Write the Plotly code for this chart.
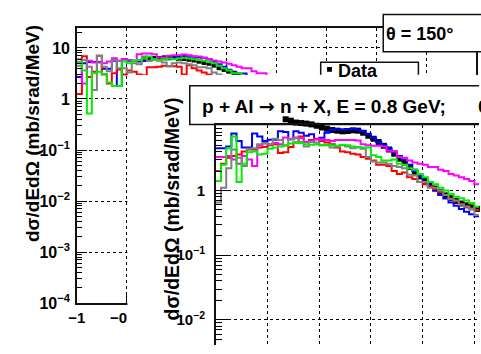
import plotly.graph_objects as go

W, H = 481, 354
FONT = "Liberation Sans, Arial, sans-serif"

# ---------------- data ----------------
BIN_W = 0.1
HIST_X0 = -1.0          # first bin edge (both panels)
DATA_X0 = 0.35          # first data point (bin centre)

# front panel (p + Al -> n + X) histograms, 0.1-wide bins from -1.0
front_blue = [4.5, 4.5, 4.8, 7.6, 5.8, 4.6, 4.6, 7.6, 6.8, 5.8,
              6.1, 6.1, 8.2, 8.0, 6.2, 8.2, 7.8, 7.0, 7.4, 6.2,
              6.5, 7.8, 8.6, 8.8, 8.6, 8.8, 8.9, 8.7, 8.3, 7.4,
              6.6, 5.6, 5.0, 4.5, 4.0, 3.4, 3.0, 2.5, 2.0, 1.7,
              1.4, 1.2, 1.0, 0.85, 0.75, 0.65, 0.58, 0.52, 0.47, 0.43, 0.40]
front_red = [2.0, 2.6, 3.2, 3.4, 3.6, 4.0, 4.3, 4.3, 4.6, 4.7,
             5.0, 5.2, 3.8, 3.9, 4.7, 5.5, 6.8, 5.6, 6.0, 6.3,
             5.8, 5.5, 5.2, 4.6, 4.0, 3.9, 3.7, 3.6, 3.3, 3.1,
             2.9, 2.5, 2.5, 2.4, 2.0, 1.8, 1.9, 1.6, 1.5, 1.35,
             1.25, 1.15, 1.05, 0.95, 0.85, 0.75, 0.68, 0.62, 0.57, 0.53, 0.50]
front_magenta = [3.3, 3.3, 3.4, 3.0, 2.6, 3.4, 3.0, 2.4, 5.0, 5.3,
                 5.2, 5.4, 5.2, 6.6, 6.3, 6.6, 6.4, 5.6, 5.8, 6.2,
                 6.1, 6.0, 5.8, 6.0, 6.0, 6.0, 6.0, 5.9, 5.2, 5.0,
                 4.9, 4.9, 4.8, 4.1, 4.0, 3.3, 3.2, 2.9, 2.7, 2.6,
                 2.5, 2.3, 2.3, 2.1, 2.0, 1.8, 1.7, 1.6, 1.5, 1.4, 1.25]
front_gray = [0.65, 1.1, 2.2, 4.3, 3.2, 2.4, 4.4, 4.5, 5.2, 5.4,
              5.2, 6.3, 6.0, 5.0, 6.2, 6.4, 5.6, 4.8, 5.6, 5.5,
              5.0, 5.0, 4.6, 4.8, 5.0, 4.8, 4.5, 4.6, 4.4, 3.3,
              2.8, 2.7, 2.7, 2.6, 2.4, 2.3, 2.2, 1.75, 1.7, 1.35,
              1.35, 1.1, 1.1, 1.0, 0.85, 0.73, 0.7, 0.6, 0.56, 0.52, 0.42]
front_green = [1.4, 2.5, 4.5, 6.8, 1.35, 2.6, 3.9, 4.0, 3.6, 3.7,
               4.4, 4.6, 4.8, 4.9, 5.3, 5.5, 5.4, 5.2, 5.1, 5.2,
               5.0, 5.1, 5.0, 4.9, 5.1, 5.0, 4.8, 4.7, 4.6, 4.6,
               3.5, 3.3, 2.9, 2.9, 3.0, 2.6, 2.5, 2.2, 2.1, 1.8,
               1.6, 1.35, 1.25, 1.1, 1.0, 0.88, 0.8, 0.76, 0.7, 0.64, 0.56]
front_data = [12.6, 12.0, 11.2, 11.0, 10.8, 10.5, 10.0, 9.4, 9.0, 8.6,
              8.4, 8.2, 8.3, 8.5, 8.4, 7.8, 7.0, 6.3, 5.6, 4.9,
              4.3, 3.7, 3.1, 2.7, 2.3, 1.95, 1.65, 1.42, 1.22, 1.07,
              0.94, 0.84, 0.76, 0.69, 0.63, 0.59, 0.55, 0.52]

# back panel (theta = 150 deg) histograms
back_blue = [2.7, 5.0, 5.3, 5.3, 5.3, 3.9, 3.9, 5.6, 1.8, 6.0,
             5.6, 5.6, 5.4, 5.6, 5.8, 6.0, 5.9, 6.2, 6.0, 6.4,
             6.6, 7.2, 6.6, 6.8, 6.6, 6.4, 6.0, 5.4, 4.8, 4.3,
             3.7, 3.3, 3.15, 3.15, 2.6, 2.3, 2.0, 1.8, 1.6, 1.4,
             1.25, 1.1, 0.95, 0.85, 0.75, 0.65, 0.58, 0.52, 0.46, 0.42]
back_red = [1.25, 6.9, 2.7, 3.4, 7.0, 3.0, 2.0, 3.2, 3.8, 3.0,
            3.6, 3.4, 3.0, 2.9, 4.2, 4.2, 4.3, 4.5, 4.4, 4.4,
            4.3, 3.0, 4.6, 4.0, 3.6, 3.3, 3.0, 2.6, 2.3, 2.0,
            1.8, 1.6, 1.45, 1.3, 1.15, 1.05, 0.95, 0.85, 0.78, 0.7,
            0.63, 0.57, 0.52, 0.47, 0.43, 0.39, 0.36, 0.33, 0.3, 0.28]
back_magenta = [6.0, 2.0, 5.6, 5.2, 5.2, 5.0, 5.4, 6.3, 5.6, 6.0,
                5.8, 5.6, 7.5, 7.8, 7.8, 7.5, 6.5, 6.5, 7.0, 7.2,
                7.2, 7.4, 7.2, 6.8, 6.8, 6.4, 6.0, 5.7, 5.4, 5.2,
                4.9, 4.6, 4.3, 4.0, 4.0, 3.5, 3.2, 3.2, 2.6, 2.4,
                2.2, 2.0, 1.85, 1.7, 1.55, 1.4, 1.3, 1.2, 1.1, 1.0]
back_gray = [4.5, 5.8, 4.3, 1.5, 7.0, 4.3, 3.5, 5.8, 4.0, 4.0,
             3.3, 5.0, 4.8, 6.8, 5.6, 5.8, 5.6, 5.2, 4.4, 5.0,
             5.2, 5.0, 4.8, 4.6, 4.2, 4.2, 4.0, 3.3, 3.0, 2.7,
             2.4, 2.15, 1.9, 1.7, 1.5, 1.35, 1.2, 1.08, 0.96, 0.86,
             0.77, 0.69, 0.62, 0.56, 0.5, 0.45, 0.41, 0.37, 0.33, 0.3]
back_green = [5.3, 3.6, 0.52, 3.2, 3.4, 3.1, 2.1, 1.8, 1.8, 5.4,
              5.0, 5.6, 5.8, 6.2, 6.8, 6.0, 5.8, 6.0, 6.2, 6.0,
              6.2, 6.4, 6.2, 6.0, 5.8, 5.6, 5.3, 5.0, 4.5, 4.0,
              3.6, 3.2, 3.2, 2.7, 2.4, 2.1, 1.85, 1.65, 1.45, 1.3,
              1.15, 1.02, 0.92, 0.82, 0.74, 0.66, 0.6, 0.54, 0.49, 0.45]
back_data = [6.0, 6.1, 6.2, 6.2, 6.4, 6.5, 6.5, 6.3, 6.2, 6.0,
             5.8, 5.5, 5.2, 5.0, 4.6, 4.1, 3.8, 3.5, 3.2, 2.9,
             2.6, 2.3, 2.0, 1.75, 1.55, 1.38, 1.22, 1.08, 0.96, 0.86,
             0.77, 0.69, 0.62, 0.56, 0.5, 0.45, 0.41, 0.37]

SERIES_COLORS = {"blue": "#0000ff", "red": "#ff0000", "magenta": "#ff00ff",
                 "gray": "#808080", "green": "#00ee00"}

back_yticks = [1e-4, 1e-3, 1e-2, 1e-1, 1, 10]
back_yticktext = ["10<sup>−4</sup>", "10<sup>−3</sup>", "10<sup>−2</sup>", "10<sup>−1</sup>", "1", "10"]
back_xticks = [-1, 0, 1, 2, 3, 4, 5, 6, 7]
back_xticktext = ["−1", "−0<span style='color:white'>00</span>", " ", " ", " ", " ", " ", " ", " "]
front_yticks = [1e-2, 1e-1, 1, 10]
front_yticktext = ["10<sup>−2</sup>", "10<sup>−1</sup>", "1", " "]
front_xticks = [0, 1, 2, 3, 4]

title_text = "p + Al <span style='font-family:DejaVu Sans'>→</span> n + X, E = 0.8 GeV;"
angle_text = "θ = 150°"
ytitle = "dσ/dEdΩ (mb/srad/MeV)"

# ---------------- geometry (pixels) ----------------
PAD2 = (121, 70)          # left/top corner of the front canvas
FRONT_X = (211.7, W)      # front frame, horizontal extent
FRONT_TOP = 122.7         # front frame top
FRONT_Y1 = 191.7          # pixel row of y = 1 on the front frame
FRONT_DEC = 68.0          # pixels per decade on the front frame
STRIP_TOP = 104.0         # extra room above the front frame for data points


def px_x(p):
    return p / W


def px_y(p):
    return 1 - p / H


def pad_x(p):            # pixel -> x2 units (x2 spans the front canvas)
    return (p - PAD2[0]) / (W - PAD2[0])


def pad_y(p):
    return (H - p) / (H - PAD2[1])


def front_log(p):        # pixel row -> log10 value on the front frame
    return (FRONT_Y1 - p) / FRONT_DEC


def minor_vals(lo, hi):
    return [m * 10.0 ** k for k in range(lo, hi) for m in range(2, 10)]


def step_trace(vals, color, xa, ya):
    edges = [round(HIST_X0 + BIN_W * i, 4) for i in range(len(vals) + 1)]
    ys = list(vals) + [vals[-1]]
    return go.Scatter(x=edges, y=ys, mode="lines",
                      line=dict(color=color, width=2, shape="hv"),
                      xaxis=xa, yaxis=ya, showlegend=False, hoverinfo="skip")


def data_trace(vals, size, xa, ya):
    xs = [round(DATA_X0 + BIN_W * i, 4) for i in range(len(vals))]
    return go.Scatter(x=xs, y=vals, mode="markers",
                      marker=dict(symbol="square", size=size, color="black",
                                  line=dict(width=0)),
                      cliponaxis=False, xaxis=xa, yaxis=ya,
                      showlegend=False, hoverinfo="skip")


fig = go.Figure()

# 1) back canvas
fig.add_trace(data_trace(back_data, 5, "x", "y"))
for vals, c in [(back_blue, "blue"), (back_red, "red"), (back_magenta, "magenta"),
                (back_gray, "gray"), (back_green, "green")]:
    fig.add_trace(step_trace(vals, SERIES_COLORS[c], "x", "y"))

# 2) front canvas background + title box
fig.add_trace(go.Scatter(x=[], y=[], xaxis="x2", yaxis="y2", showlegend=False))

# 3) front data points (same scale as the front frame, but allowed above it)
fig.add_trace(data_trace(front_data, 6, "x3", "y3"))

# 4) front frame with the model histograms
for vals, c in [(front_blue, "blue"), (front_red, "red"), (front_magenta, "magenta"),
                (front_gray, "gray"), (front_green, "green")]:
    fig.add_trace(step_trace(vals, SERIES_COLORS[c], "x4", "y4"))

tickfont_b = dict(family=FONT, size=16, color="black", weight="bold")
tickfont_f = dict(family=FONT, size=15, color="black", weight="bold")
GRID = dict(showgrid=True, gridcolor="#000", gridwidth=1, griddash="dot", zeroline=False)
front_xrange = [-1, 4.09]
front_ybottom = front_log(H)

fig.update_layout(
    width=W, height=H, autosize=False,
    margin=dict(l=0, r=0, t=0, b=0, pad=0),
    paper_bgcolor="white", plot_bgcolor="rgba(0,0,0,0)",
    showlegend=False, hovermode=False,
    xaxis=dict(domain=[px_x(69.5), px_x(478)], range=[-1, 7], anchor="y",
               tickmode="array", tickvals=back_xticks, ticktext=back_xticktext,
               ticks="inside", ticklen=10, tickcolor="black", tickwidth=1,
               tickfont=dict(family=FONT, size=15, color="black", weight="bold"),
               showline=True, linecolor="#111", linewidth=1.5, mirror=True, **GRID),
    yaxis=dict(domain=[px_y(310), px_y(20.5)], type="log", range=[-4, 1.40], anchor="x",
               tickmode="array", tickvals=back_yticks, ticktext=back_yticktext,
               ticks="inside", ticklen=10, tickcolor="black", tickwidth=1,
               minor=dict(ticks="inside", ticklen=5, tickcolor="black", tickwidth=1,
                          tickmode="array", tickvals=minor_vals(-4, 2), showgrid=False),
               tickfont=tickfont_b, ticklabelstandoff=2,
               showline=True, linecolor="#111", linewidth=1.5, mirror=True, **GRID),
    xaxis2=dict(domain=[px_x(PAD2[0]), 1], range=[0, 1], anchor="y2", visible=False),
    yaxis2=dict(domain=[0, px_y(PAD2[1])], range=[0, 1], anchor="x2", visible=False),
    xaxis3=dict(domain=[px_x(FRONT_X[0]), 1], range=front_xrange, anchor="y3", visible=False),
    yaxis3=dict(domain=[0, px_y(STRIP_TOP)], type="log",
                range=[front_ybottom, front_log(STRIP_TOP)], anchor="x3", visible=False),
    xaxis4=dict(domain=[px_x(FRONT_X[0]), 1], range=front_xrange, anchor="y4", side="top",
                tickmode="array", tickvals=front_xticks, ticks="", showticklabels=False,
                showline=True, linecolor="#111", linewidth=1.5, mirror=False, **GRID),
    yaxis4=dict(domain=[0, px_y(FRONT_TOP)], type="log",
                range=[front_ybottom, front_log(FRONT_TOP)], anchor="x4",
                tickmode="array", tickvals=front_yticks, ticktext=front_yticktext,
                ticks="inside", ticklen=12, tickcolor="black", tickwidth=1,
                minor=dict(ticks="inside", ticklen=6, tickcolor="black", tickwidth=1,
                           tickmode="array", tickvals=minor_vals(-3, 2), showgrid=False),
                tickfont=tickfont_f, ticklabelstandoff=6,
                showline=True, linecolor="#111", linewidth=1.5, mirror=False, **GRID),
)

shapes = [
    # front canvas: opaque white pad hiding the back canvas
    dict(type="rect", xref="x2", yref="y2", x0=0, x1=1, y0=0, y1=1,
         fillcolor="white", line=dict(width=0), layer="below"),
    # title box of the front canvas
    dict(type="rect", xref="x2", yref="y2", x0=pad_x(185), x1=1.05,
         y0=pad_y(122.3), y1=pad_y(81.7), fillcolor="white",
         line=dict(color="#111", width=1.5), layer="below"),
    # theta box of the back canvas
    dict(type="rect", xref="paper", yref="paper", x0=px_x(383), x1=1.2,
         y0=px_y(46), y1=px_y(6.7), fillcolor="white",
         line=dict(color="#111", width=1.5), layer="above"),
    # legend box of the back canvas (lower part hidden by front canvas)
    dict(type="rect", xref="paper", yref="paper", x0=px_x(319), x1=px_x(419),
         y0=px_y(70), y1=px_y(57), fillcolor="white", line=dict(width=0), layer="above"),
    dict(type="path", xref="paper", yref="paper",
         path=f"M {px_x(319)},{px_y(70)} L {px_x(319)},{px_y(57)} L {px_x(419)},{px_y(57)} L {px_x(419)},{px_y(70)}",
         line=dict(color="#111", width=1.5), layer="above"),
    dict(type="rect", xref="paper", yref="paper", x0=px_x(325.5), x1=px_x(330.5),
         y0=px_y(67), y1=px_y(62), fillcolor="black", line=dict(width=0), layer="above"),
]
fig.update_layout(shapes=shapes)

ann_font = lambda s: dict(family=FONT, size=s, color="black", weight="bold")
annotations = [
    dict(text=ytitle, x=px_x(24), y=px_y(132), xref="paper", yref="paper",
         textangle=-90, showarrow=False, xanchor="center", yanchor="middle", font=ann_font(19)),
    dict(text=ytitle, x=px_x(167), y=px_y(211.5), xref="paper", yref="paper",
         textangle=-90, showarrow=False, xanchor="center", yanchor="middle", font=ann_font(19.5)),
    dict(text=title_text, x=px_x(195), y=px_y(103), xref="paper", yref="paper",
         showarrow=False, xanchor="left", yanchor="middle", font=ann_font(19)),
    dict(text="θ", x=px_x(478), y=px_y(103), xref="paper", yref="paper",
         showarrow=False, xanchor="left", yanchor="middle", font=ann_font(19)),
    dict(text=angle_text, x=px_x(384), y=px_y(27), xref="paper", yref="paper",
         showarrow=False, xanchor="left", yanchor="middle", font=ann_font(18)),
    dict(text="Data", x=px_x(335), y=px_y(66), xref="paper", yref="paper",
         showarrow=False, xanchor="left", yanchor="middle", font=ann_font(18)),
]
fig.update_layout(annotations=annotations)

fig.write_html("out.html", config={"displayModeBar": False})
